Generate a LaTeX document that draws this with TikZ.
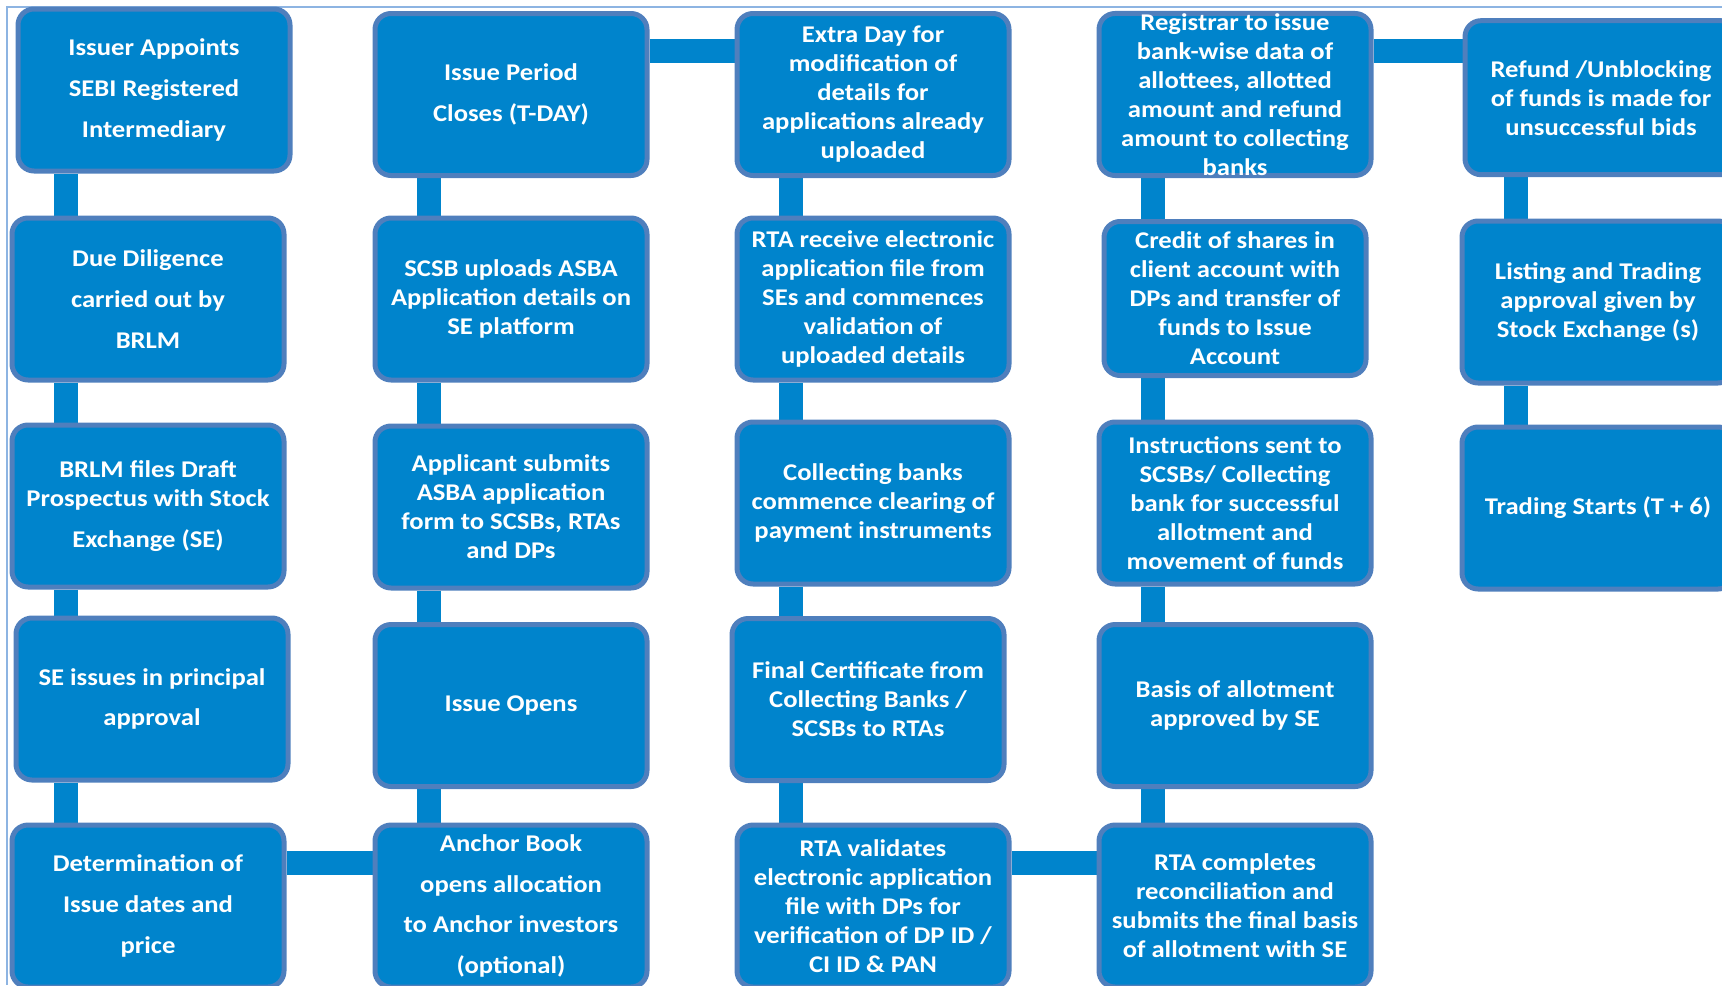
\documentclass[tikz,border=0pt]{standalone}
\usepackage{fontspec}
\setmainfont{Carlito}[FakeStretch=1.11]
\usetikzlibrary{backgrounds}
\definecolor{stagefill}{HTML}{0084CC}
\definecolor{stageline}{HTML}{4F7FBD}
\definecolor{framecol}{HTML}{8DB4E2}
\tikzset{
  stage/.style={draw=stageline, fill=stagefill, line width=2.5pt, rounded corners=8pt,
    minimum width=136pt, minimum height=81pt, text=white, align=center,
    font=\bfseries\fontsize{12}{14.5}\selectfont},
  stagewide/.style={stage, font=\bfseries\fontsize{12}{20.3}\selectfont},
  link/.style={draw=stagefill, line width=12pt}
}

\begin{document}
\begin{tikzpicture}[x=0.5pt,y=-0.5pt]
    \useasboundingbox (0,0) rectangle (1722,985);
    \clip (0,0) rectangle (1722,985);
    \draw[framecol, line width=0.8pt] (1722,7) -- (7,7) -- (7,985);

    \node[stagewide] (iss) at (154,90) {Issuer Appoints\\SEBI Registered\\Intermediary};
    \node[stagewide] (dd) at (148,299) {Due Diligence\\carried out by\\BRLM};
    \node[stage] (drhp) at (148,506) {BRLM files Draft\\Prospectus with Stock\\[5.8pt]Exchange (SE)};
    \node[stagewide] (inpr) at (152,699) {SE issues in principal\\approval};
    \node[stagewide] (dates) at (148,906) {Determination of\\Issue dates and\\price};

    \node[stagewide] (close) at (511,94.5) {Issue Period\\Closes (T-DAY)};
    \node[stage] (upload) at (511,299) {SCSB uploads ASBA\\Application details on\\SE platform};
    \node[stage] (apply) at (511,507) {Applicant submits\\ASBA application\\form to SCSBs, RTAs\\and DPs};
    \node[stage] (open) at (511,705.5) {Issue Opens};
    \node[stagewide] (anchor) at (511,906) {Anchor Book\\opens allocation\\to Anchor investors\\(optional)};

    \node[stage] (extra) at (873,94.5) {Extra Day for\\modification of\\details for\\applications already\\uploaded};
    \node[stage] (recv) at (873,299) {RTA receive electronic\\application file from\\SEs and commences\\validation of\\uploaded details};
    \node[stage] (clear) at (873,503) {Collecting banks\\commence clearing of\\payment instruments};
    \node[stage] (cert) at (868,699.5) {Final Certificate from\\Collecting Banks /\\SCSBs to RTAs};
    \node[stage] (valid) at (873,906) {RTA validates\\electronic application\\file with DPs for\\verification of DP ID /\\CI ID \& PAN};

    \node[stage, inner ysep=0pt] (regis) at (1235,94.5) {Registrar to issue\\bank-wise data of\\allottees, allotted\\amount and refund\\amount to collecting\\banks};
    \node[stage, minimum width=131pt, minimum height=77pt] (credit) at (1235,298.5) {Credit of shares in\\client account with\\DPs and transfer of\\funds to Issue\\Account};
    \node[stage] (instr) at (1235,503) {Instructions sent to\\SCSBs/ Collecting\\bank for successful\\allotment and\\movement of funds};
    \node[stage] (basis) at (1235,705.5) {Basis of allotment\\approved by SE};
    \node[stage] (recon) at (1235,906) {RTA completes\\reconciliation and\\submits the final basis\\of allotment with SE};

    \node[stage, minimum height=77pt] (refund) at (1601,97.7) {Refund /Unblocking\\of funds is made for\\unsuccessful bids};
    \node[stage] (listing) at (1598,302) {Listing and Trading\\approval given by\\Stock Exchange (s)};
    \node[stage] (trade) at (1598,508) {Trading Starts (T + 6)};

    \begin{scope}[on background layer]
    \draw[link] ([xshift=28pt]dd.north west |- iss.south) -- ([xshift=28pt]dd.north west);
    \draw[link] ([xshift=28pt]drhp.north west |- dd.south) -- ([xshift=28pt]drhp.north west);
    \draw[link] ([xshift=28pt]drhp.south west) -- ([xshift=28pt]drhp.south west |- inpr.north);
    \draw[link] ([xshift=28pt]dates.north west |- inpr.south) -- ([xshift=28pt]dates.north west);
    \draw[link] ([yshift=-20pt]dates.north east) -- ([yshift=-20pt]dates.north east -| anchor.west);

    \draw[link] ([xshift=28pt]anchor.north west |- open.south) -- ([xshift=28pt]anchor.north west);
    \draw[link] ([xshift=28pt]open.north west |- apply.south) -- ([xshift=28pt]open.north west);
    \draw[link] ([xshift=28pt]apply.north west |- upload.south) -- ([xshift=28pt]apply.north west);
    \draw[link] ([xshift=28pt]upload.north west |- close.south) -- ([xshift=28pt]upload.north west);
    \draw[link] ([yshift=-20pt]close.north east) -- ([yshift=-20pt]close.north east -| extra.west);

    \draw[link] ([xshift=28pt]recv.north west |- extra.south) -- ([xshift=28pt]recv.north west);
    \draw[link] ([xshift=28pt]clear.north west |- recv.south) -- ([xshift=28pt]clear.north west);
    \draw[link] ([xshift=28pt]clear.south west) -- ([xshift=28pt]clear.south west |- cert.north);
    \draw[link] ([xshift=28pt]valid.north west |- cert.south) -- ([xshift=28pt]valid.north west);
    \draw[link] ([yshift=-20pt]valid.north east) -- ([yshift=-20pt]valid.north east -| recon.west);

    \draw[link] ([xshift=28pt]recon.north west |- basis.south) -- ([xshift=28pt]recon.north west);
    \draw[link] ([xshift=28pt]basis.north west |- instr.south) -- ([xshift=28pt]basis.north west);
    \draw[link] ([xshift=28pt]instr.north west |- credit.south) -- ([xshift=28pt]instr.north west);
    \draw[link] ([xshift=28pt]regis.south west) -- ([xshift=28pt]regis.south west |- credit.north);
    \draw[link] ([yshift=-20pt]regis.north east) -- ([yshift=-20pt]regis.north east -| refund.west);

    \draw[link] ([xshift=28pt]listing.north west |- refund.south) -- ([xshift=28pt]listing.north west);
    \draw[link] ([xshift=28pt]trade.north west |- listing.south) -- ([xshift=28pt]trade.north west);
    \end{scope}
\end{tikzpicture}
\end{document}
